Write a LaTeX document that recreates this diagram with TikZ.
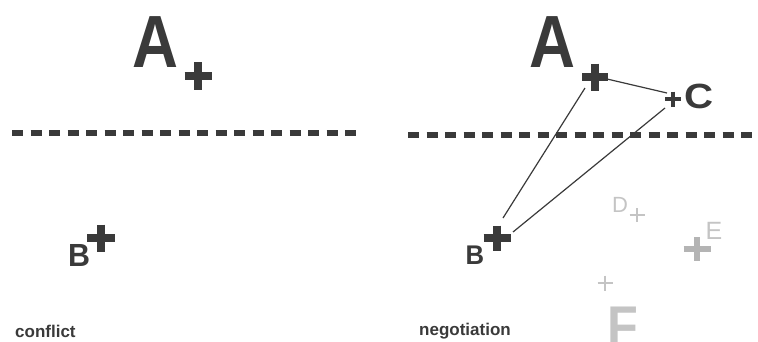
\documentclass[tikz,border=0pt]{standalone}
\usepackage{fontspec}
\setmainfont{Liberation Sans}
\definecolor{ink}{HTML}{3A3A3A}
\definecolor{faint}{HTML}{C4C4C4}
\definecolor{faintb}{HTML}{B4B4B4}
\newcommand\drawplus[5]{\draw[line width=#4, draw=#5] (#1) ++(-#2,0) -- ++(2*#2,0) (#1) ++(0,-#3) -- ++(0,2*#3);}
\begin{document}
\begin{tikzpicture}[x=1pt,y=-1pt,
  bigletter/.style={inner sep=0pt, text=ink, font=\fontsize{74}{74}\selectfont\bfseries, xscale=0.86},
  faintletter/.style={inner sep=0pt, text=faint},
  caption/.style={inner sep=0pt, anchor=base west, text=ink, font=\fontsize{17}{17}\selectfont\bfseries},
  divider/.style={draw=ink, line width=5.5pt, dash pattern=on 11pt off 7.5pt},
  link/.style={draw=ink, line width=1.2pt}]
\useasboundingbox (0,0) rectangle (758,341);
% ---------- left panel: conflict ----------
\node[bigletter] (A1) at (155,42) {A};
\coordinate (pA1) at (198,76);
\drawplus{pA1}{13.5}{14}{8pt}{ink}
\coordinate (d1s) at (12,133);
\coordinate (d1e) at (363,133);
\draw[divider] (d1s) -- (d1e);
\node[inner sep=0pt, text=ink, font=\fontsize{32}{32}\selectfont\bfseries, xscale=0.95] (B1) at (79,255) {B};
\coordinate (pB1) at (101,238);
\drawplus{pB1}{14}{13.5}{8pt}{ink}
\node[caption] (cap1) at (15,337) {conflict};
% ---------- right panel: negotiation ----------
\node[bigletter] (A2) at (552,42) {A};
\coordinate (pA2) at (595,77);
\drawplus{pA2}{13}{13.5}{8pt}{ink}
\coordinate (pC) at (673,99);
\drawplus{pC}{8}{7.5}{4pt}{ink}
\node[inner sep=0pt, text=ink, font=\fontsize{35}{35}\selectfont\bfseries, xscale=1.15] (C) at (699,96) {C};
\coordinate (d2s) at (408,135);
\coordinate (d2e) at (758,135);
\draw[divider] (d2s) -- (d2e);
\node[inner sep=0pt, text=ink, font=\fontsize{27}{27}\selectfont\bfseries, xscale=0.95] (B2) at (475,255) {B};
\coordinate (pB2) at (497,238);
\drawplus{pB2}{13.5}{12.5}{8pt}{ink}
\draw[link] ([shift={(12,2)}]pA2) -- ([shift={(-6,-6)}]pC);
\draw[link] ([shift={(-10,11)}]pA2) -- ([shift={(6,-20)}]pB2);
\draw[link] ([shift={(-8,9)}]pC) -- ([shift={(16,-6)}]pB2);
% faint parties
\node[faintletter, font=\fontsize{22}{22}\selectfont] (D) at (620,205) {D};
\coordinate (pD) at (637,215);
\drawplus{pD}{7.5}{7}{2.5pt}{faint}
\node[faintletter, font=\fontsize{25}{25}\selectfont] (E) at (714,231) {E};
\coordinate (pE) at (697,249);
\drawplus{pE}{13.5}{12}{6pt}{faintb}
\coordinate (pF) at (605,283);
\drawplus{pF}{7.5}{7.5}{2.2pt}{faint}
\node[faintletter, font=\fontsize{56}{56}\selectfont\bfseries, xscale=0.9] (F) at (623,326) {F};
\node[caption] (cap2) at (419,335) {negotiation};
\end{tikzpicture}
\end{document}
